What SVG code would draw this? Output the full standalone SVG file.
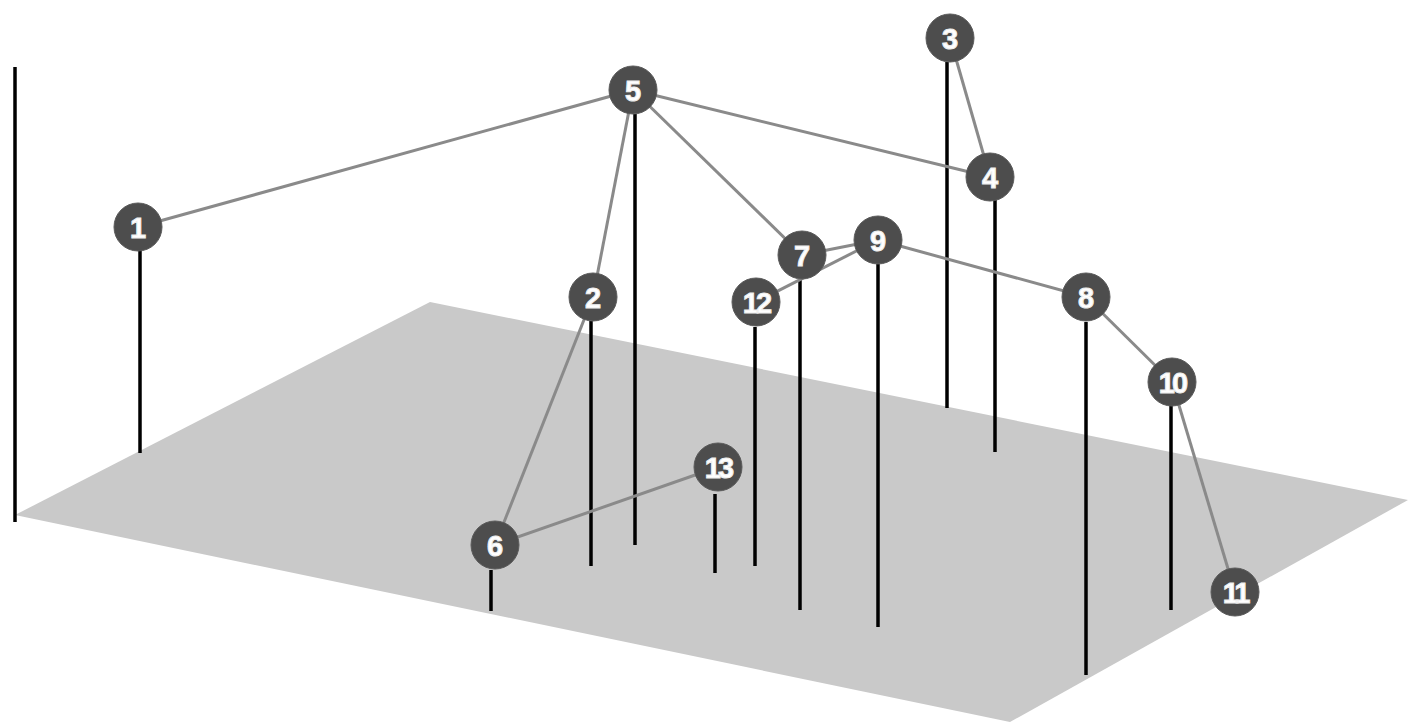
<svg xmlns="http://www.w3.org/2000/svg" width="1408" height="722" viewBox="0 0 1408 722">
<style>
.stem{stroke:#000;stroke-width:3.5;fill:none}
.edge{stroke:#8a8a8a;stroke-width:3;fill:none}
.node circle{fill:#4d4d4d;stroke:#5a5a5a;stroke-width:1}
.node text{fill:#fff;font-family:"Liberation Sans",Arial,sans-serif;font-weight:bold;font-size:29px;text-anchor:middle;dominant-baseline:central;stroke:#eee;stroke-width:1}
</style>
<rect width="1408" height="722" fill="#fff"/>
<polygon id="plane" points="430,302 1408,500 1010,722 15,515" fill="#c9c9c9"/>
<g id="stems">
<line class="stem" x1="15" y1="67" x2="15" y2="522"/>
<line class="stem" x1="140" y1="250" x2="140" y2="453"/>
<line class="stem" x1="635" y1="114" x2="635" y2="545"/>
<line class="stem" x1="947" y1="62" x2="947" y2="408"/>
<line class="stem" x1="995" y1="200" x2="995" y2="452"/>
<line class="stem" x1="591" y1="321" x2="591" y2="566"/>
<line class="stem" x1="755" y1="327" x2="755" y2="566"/>
<line class="stem" x1="800" y1="280" x2="800" y2="610"/>
<line class="stem" x1="878" y1="264" x2="878" y2="627"/>
<line class="stem" x1="1086" y1="322" x2="1086" y2="675"/>
<line class="stem" x1="1171" y1="405" x2="1171" y2="610"/>
<line class="stem" x1="715" y1="494" x2="715" y2="573"/>
<line class="stem" x1="491" y1="570" x2="491" y2="611"/>
</g>
<g id="connectors">
<line class="edge" x1="138" y1="227" x2="633" y2="90"/>
<line class="edge" x1="633" y1="90" x2="990" y2="177"/>
<line class="edge" x1="633" y1="90" x2="593" y2="297"/>
<line class="edge" x1="633" y1="90" x2="802" y2="255"/>
<line class="edge" x1="950" y1="38" x2="990" y2="177"/>
<line class="edge" x1="802" y1="255" x2="878" y2="240"/>
<line class="edge" x1="756" y1="302" x2="878" y2="240"/>
<line class="edge" x1="878" y1="240" x2="1086" y2="297"/>
<line class="edge" x1="1086" y1="297" x2="1172" y2="382"/>
<line class="edge" x1="1172" y1="382" x2="1235" y2="592"/>
<line class="edge" x1="593" y1="297" x2="495" y2="545"/>
<line class="edge" x1="495" y1="545" x2="718" y2="467"/>
</g>
<g id="n1" class="node"><circle cx="138" cy="227" r="24"/><text x="138" y="228">1</text></g>
<g id="n2" class="node"><circle cx="593" cy="297" r="24"/><text x="593" y="298">2</text></g>
<g id="n3" class="node"><circle cx="950" cy="38" r="24"/><text x="950" y="39">3</text></g>
<g id="n4" class="node"><circle cx="990" cy="177" r="24"/><text x="990" y="178">4</text></g>
<g id="n5" class="node"><circle cx="633" cy="90" r="24"/><text x="633" y="91">5</text></g>
<g id="n6" class="node"><circle cx="495" cy="545" r="24"/><text x="495" y="546">6</text></g>
<g id="n7" class="node"><circle cx="802" cy="255" r="24"/><text x="802" y="256">7</text></g>
<g id="n8" class="node"><circle cx="1086" cy="297" r="24"/><text x="1086" y="298">8</text></g>
<g id="n9" class="node"><circle cx="878" cy="240" r="24"/><text x="878" y="241">9</text></g>
<g id="n10" class="node"><circle cx="1172" cy="382" r="24"/><text x="1172" y="383" letter-spacing="-3">10</text></g>
<g id="n11" class="node"><circle cx="1235" cy="592" r="24"/><text x="1235" y="593" letter-spacing="-3">11</text></g>
<g id="n12" class="node"><circle cx="756" cy="302" r="24"/><text x="756" y="303" letter-spacing="-3">12</text></g>
<g id="n13" class="node"><circle cx="718" cy="467" r="24"/><text x="718" y="468" letter-spacing="-3">13</text></g>
</svg>
